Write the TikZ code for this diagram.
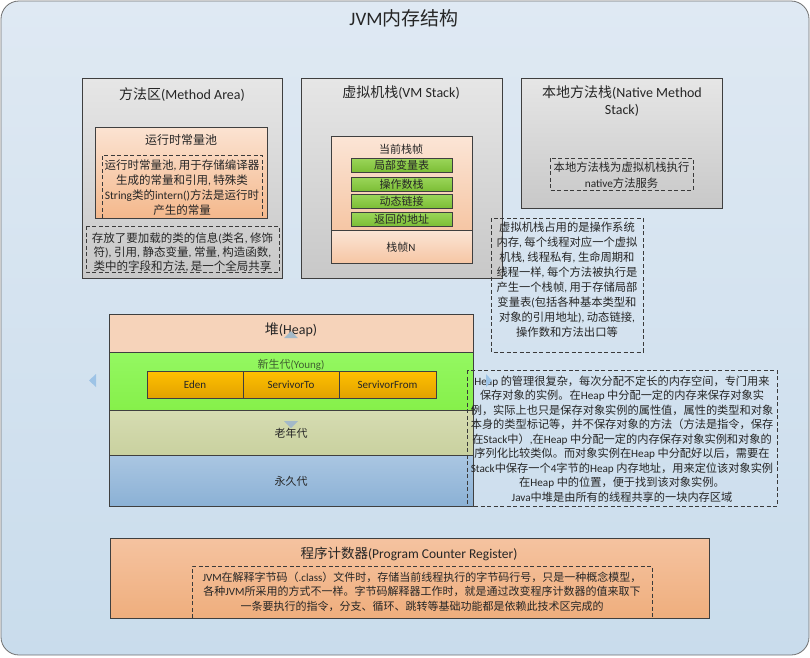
\documentclass[tikz,border=0pt]{standalone}
\usepackage{fontspec}
\setmainfont{Carlito}
\newfontfamily\cjkf{Noto Sans CJK SC}
\newfontfamily\latf{Carlito}
\newXeTeXintercharclass\cjkcls
\makeatletter
\count@="3000
\loop \XeTeXcharclass\count@=\cjkcls \advance\count@ by 1 \ifnum\count@<"3040 \repeat
\count@="4E00
\loop \XeTeXcharclass\count@=\cjkcls \advance\count@ by 1 \ifnum\count@<"A000 \repeat
\count@="FF00
\loop \XeTeXcharclass\count@=\cjkcls \advance\count@ by 1 \ifnum\count@<"FFF0 \repeat
\makeatother
\XeTeXinterchartoks 0 \cjkcls = {\cjkf}
\XeTeXinterchartoks 4095 \cjkcls = {\cjkf}
\XeTeXinterchartoks \cjkcls 0 = {\latf}
\XeTeXinterchartoks \cjkcls 4095 = {\latf}
\XeTeXinterchartokenstate=1
\newcommand\myfs[2]{\fontsize{#1}{#2}\selectfont}
\definecolor{bgtop}{HTML}{DFE9F3}
\definecolor{bgbot}{HTML}{C9DCEC}
\definecolor{bgline}{HTML}{707070}
\definecolor{boxline}{HTML}{3F3F3F}
\definecolor{dashc}{HTML}{3A3A3A}
\definecolor{txtc}{HTML}{262626}
\definecolor{graytop}{HTML}{E6E6E6}
\definecolor{graybot}{HTML}{C8C8C8}
\definecolor{ortop}{HTML}{FBE3D2}
\definecolor{orbot}{HTML}{F4B88C}
\definecolor{frtop}{HTML}{FBE5D6}
\definecolor{frbot}{HTML}{F6C6A4}
\definecolor{grtop}{HTML}{9BD65A}
\definecolor{grbot}{HTML}{7CBE36}
\definecolor{heaphd}{HTML}{F6D3BA}
\definecolor{yotop}{HTML}{94F862}
\definecolor{yobot}{HTML}{86F04A}
\definecolor{edtop}{HTML}{FFC000}
\definecolor{edbot}{HTML}{E2A200}
\definecolor{oldtop}{HTML}{D6DCB2}
\definecolor{oldbot}{HTML}{C9D19F}
\definecolor{pmtop}{HTML}{AAC6E2}
\definecolor{pmbot}{HTML}{8BB1D5}
\definecolor{pctop}{HTML}{F5C3A0}
\definecolor{pcbot}{HTML}{EFAE7D}
\definecolor{youngtxt}{HTML}{3F6030}
\definecolor{tri}{HTML}{9DC3E6}
\definecolor{trig}{HTML}{A3B9C8}
\begin{document}
\begin{tikzpicture}[x=1pt,y=-1pt,
  txt/.style={inner sep=0pt, text=txtc, align=center},
  solidbox/.style={draw=boxline, line width=0.8pt, inner sep=0pt},
  graybox/.style={solidbox, top color=graytop, bottom color=graybot},
  dbox/.style={draw=dashc, line width=0.8pt, dash pattern=on 4pt off 2.5pt},
  titlef/.style={txt, font=\myfs{14}{17}},
  notef/.style={txt, font=\myfs{11.5}{15}},
  barbox/.style={solidbox, top color=grtop, bottom color=grbot, minimum width=101, minimum height=14, font=\myfs{11}{13}, text=txtc},
  edbox/.style={solidbox, top color=edtop, bottom color=edbot, minimum width=96, minimum height=27, font=\myfs{11}{13}, text=txtc},
  tristyle/.style={fill=tri, draw=none}
]
\useasboundingbox (0,0) rectangle (810,657);
% background
\draw[bgline, line width=0.8pt, rounded corners=18, top color=bgtop, bottom color=bgbot] (1,1) rectangle (809,655);
\node[txt, font=\myfs{19}{22}] (title) at (404,18) {JVM内存结构};

% Method area
\node[graybox, minimum width=200, minimum height=200] (ma) at (182,178) {};
\node[titlef] (matitle) at (182,95) {方法区(Method Area)};
\node[solidbox, top color=ortop, bottom color=orbot, minimum width=172, minimum height=91] (pool) at (181,172.5) {};
\node[txt, font=\myfs{12}{15}] (pooltitle) at (181,140) {运行时常量池};
\draw[dbox] (102,218) -- (102,155) -- (262,155) -- (262,218);
\node[notef] (pooltext) at (182,187.5) {运行时常量池, 用于存储编译器\\生成的常量和引用, 特殊类\\String类的intern()方法是运行时\\产生的常量};
\draw[dbox] (86,226) rectangle (279,272);
\node[txt, font=\myfs{11.5}{14}] (matext) at (182.5,252) {存放了要加载的类的信息(类名, 修饰\\符), 引用, 静态变量, 常量, 构造函数,\\类中的字段和方法, 是一个全局共享};

% VM stack
\node[graybox, minimum width=201, minimum height=200] (vm) at (401.5,178) {};
\node[titlef] (vmtitle) at (401,93) {虚拟机栈(VM Stack)};
\node[solidbox, top color=frtop, bottom color=frbot, minimum width=141, minimum height=94] (frame) at (401.5,183) {};
\node[solidbox, top color=frtop, bottom color=frbot, minimum width=141, minimum height=33] (frameN) at (401.5,246.5) {};
\node[txt, font=\myfs{11}{13}] (curframe) at (401,149) {当前栈帧};
\node[barbox] (b1) at (401.5,165) {局部变量表};
\node[barbox] (b2) at (401.5,184) {操作数栈};
\node[barbox] (b3) at (401.5,201) {动态链接};
\node[barbox] (b4) at (401.5,219) {返回的地址};
\node[txt, font=\myfs{11}{13}] (frameNtxt) at (401,247) {栈帧N};
\draw[dbox] (491,218) rectangle (643,352);
\node[txt, font=\myfs{11.3}{15}] (vmnote) at (567,279.5) {虚拟机栈占用的是操作系统\\内存, 每个线程对应一个虚拟\\机栈, 线程私有, 生命周期和\\线程一样, 每个方法被执行是\\产生一个栈帧, 用于存储局部\\变量表(包括各种基本类型和\\对象的引用地址), 动态链接,\\操作数和方法出口等};

% Native method stack
\node[graybox, minimum width=201, minimum height=130] (nm) at (621.5,143) {};
\node[titlef] (nmtitle) at (622,101.5) {本地方法栈(Native Method\\Stack)};
\draw[dbox] (550,158) rectangle (693,190);
\node[txt, font=\myfs{11.3}{16}] (nmnote) at (621.5,175) {本地方法栈为虚拟机栈执行\\native方法服务};

% Heap
\node[solidbox, fill=heaphd, minimum width=364, minimum height=38] (heap) at (291,333) {};
\node[solidbox, top color=yotop, bottom color=yobot, minimum width=364, minimum height=58] (young) at (291,381) {};
\node[solidbox, top color=oldtop, bottom color=oldbot, minimum width=364, minimum height=45] (old) at (291,432.5) {};
\node[solidbox, top color=pmtop, bottom color=pmbot, minimum width=364, minimum height=51] (perm) at (291,480.5) {};
\node[txt, font=\myfs{14}{17}] (heaptitle) at (291,330) {堆(Heap)};
\node[txt, font=\myfs{11}{13}, text=youngtxt] (youngtitle) at (291,365) {新生代(Young)};
\node[edbox] (eden) at (195,384.5) {Eden};
\node[edbox] (sto) at (291,384.5) {ServivorTo};
\node[edbox, minimum width=97] (sfrom) at (387.5,384.5) {ServivorFrom};
\node[txt, font=\myfs{11}{13}] (oldtitle) at (291,433) {老年代};
\node[txt, font=\myfs{11}{13}] (permtitle) at (291,481) {永久代};
\fill[trig] (284,338) -- (298,338) -- (291,331) -- cycle;
\fill[trig] (284,421) -- (298,421) -- (291,428) -- cycle;
\fill[tristyle] (96,374) -- (96,387) -- (89,380.5) -- cycle;
\draw[dbox] (467,370) rectangle (777,506);
\node[txt, font=\myfs{11.2}{14.5}] (heapnote) at (622,439) {Heap 的管理很复杂，每次分配不定长的内存空间，专门用来\\保存对象的实例。在Heap 中分配一定的内存来保存对象实\\例，实际上也只是保存对象实例的属性值，属性的类型和对象\\本身的类型标记等，并不保存对象的方法（方法是指令，保存\\在Stack中）,在Heap 中分配一定的内存保存对象实例和对象的\\序列化比较类似。而对象实例在Heap 中分配好以后，需要在\\Stack中保存一个4字节的Heap 内存地址，用来定位该对象实例\\在Heap 中的位置，便于找到该对象实例。\\Java中堆是由所有的线程共享的一块内存区域};
\fill[tristyle] (486,374) -- (486,387) -- (492,380.5) -- cycle;

% Program counter
\node[solidbox, top color=pctop, bottom color=pcbot, minimum width=599, minimum height=80] (pc) at (409.5,578) {};
\node[txt, font=\myfs{13.5}{16}] (pctitle) at (409,554) {程序计数器(Program Counter Register)};
\draw[dbox] (192,618) -- (192,566) -- (652,566) -- (652,618);
\node[txt, font=\myfs{11}{14.5}] (pcnote) at (422,591.5) {JVM在解释字节码（.class）文件时，存储当前线程执行的字节码行号，只是一种概念模型，\\各种JVM所采用的方式不一样。字节码解释器工作时，就是通过改变程序计数器的值来取下\\一条要执行的指令，分支、循环、跳转等基础功能都是依赖此技术区完成的};
\end{tikzpicture}
\end{document}
